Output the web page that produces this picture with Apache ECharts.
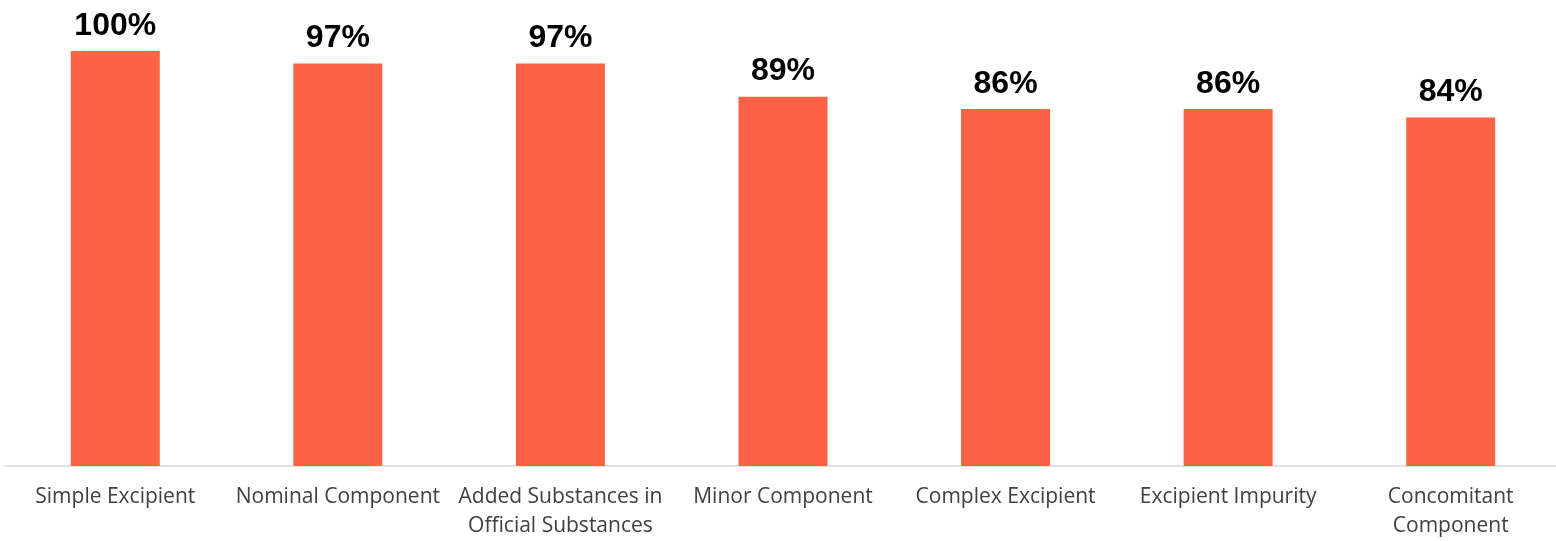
<!DOCTYPE html>
<html>
<head>
<meta charset="utf-8">
<script src="https://cdn.jsdelivr.net/npm/echarts@6/dist/echarts.min.js"></script>
<style>
  html, body { margin: 0; padding: 0; background: #fff; overflow: hidden; }
  #main { width: 1562px; height: 541px; }
</style>
</head>
<body>
<div id="main"></div>
<script>
// data
const categories = [
  "Simple Excipient",
  "Nominal Component",
  "Added Substances in\nOfficial Substances",
  "Minor Component",
  "Complex Excipient",
  "Excipient Impurity",
  "Concomitant\nComponent",
];
const shares = [100, 97, 97, 89, 86, 86, 84];

const chart = echarts.init(document.getElementById("main"));

const option = {
  animation: false,
  grid: {
    left: 4,
    right: 0,
    top: 51,
    height: 415,
    containLabel: false,
  },
  xAxis: {
    type: "category",
    data: categories,
    axisLine: { lineStyle: { color: "#d9d9d9", width: 1.5 } },
    axisTick: { show: false },
    axisLabel: {
      interval: 0,
      margin: 17,
      color: "#404040",
      fontFamily: "Open Sans",
      fontSize: 21,
      lineHeight: 29,
    },
  },
  yAxis: {
    type: "value",
    min: 0,
    max: 100,
    show: false,
    splitLine: { show: false },
  },
  series: [
    {
      type: "bar",
      data: shares,
      barWidth: 89,
      itemStyle: { color: "#FB6246" },
      label: {
        show: true,
        position: "top",
        distance: 9,
        formatter: "{c}%",
        color: "#000",
        fontFamily: "Liberation Sans",
        fontWeight: "bold",
        fontSize: 32,
      },
    },
  ],
};

chart.setOption(option);
</script>
</body>
</html>
